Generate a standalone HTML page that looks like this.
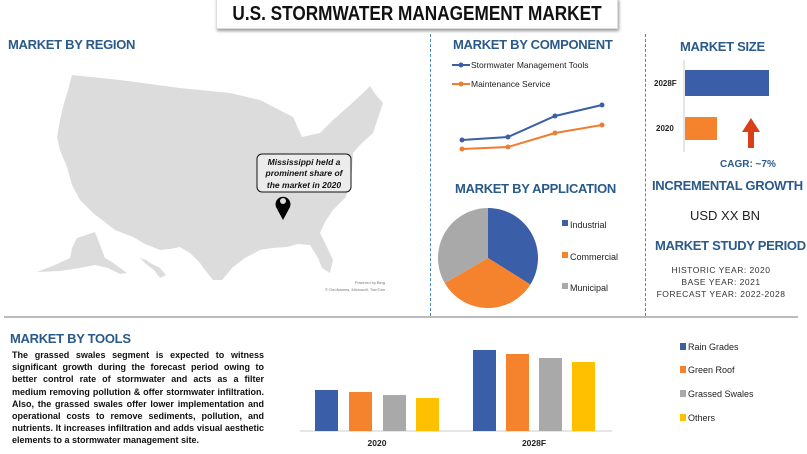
<!DOCTYPE html>
<html><head><meta charset="utf-8"><style>
*{margin:0;padding:0;box-sizing:border-box}
body{width:807px;height:454px;background:#fff;position:relative;overflow:hidden;font-family:"Liberation Sans",sans-serif}
.a{position:absolute;white-space:nowrap}
.h{color:#2a5a8a;font-weight:bold;font-size:13px;letter-spacing:-0.3px}
.p{position:absolute;left:12px;width:252px;font-size:9px;font-weight:bold;color:#111;line-height:12.2px}
.p div{text-align:justify;text-align-last:justify;height:12.2px}
.p div.l{text-align-last:left}
</style></head><body>
<div class="a" style="left:216px;top:-2px;width:402px;height:31px;background:#fff;box-shadow:1px 2px 3px #999;border:1px solid #ddd;font-size:20px;font-weight:bold;line-height:31px;color:#111"><span style="position:absolute;left:50%;top:0;transform:translateX(-50%) scaleX(0.86)">U.S. STORMWATER MANAGEMENT MARKET</span></div>
<div class="a" style="left:430px;top:34px;height:282px;border-left:1px dashed #4a86c8"></div>
<div class="a" style="left:645px;top:34px;height:282px;border-left:1px dashed #4a86c8"></div>
<div class="a" style="left:4px;top:316px;width:794px;height:2px;background:#bbb"></div>

<div class="a h" style="left:8px;top:37px">MARKET BY REGION</div>
<svg class="a" style="left:0;top:0" width="430" height="316">
<path fill="#dcdcdc" d="M72,75 L120,80 L180,88 L230,93 L260,100 L293,117 L302,137 L320,133 L333,120 L350,105 L363,93 L370,86 L376,95 L383,103 L378,118 L373,133 L360,145 L353,153 L352,170 L350,187 L345,198 L333,210 L325,222 L320,233 L326,245 L333,260 L330,273 L322,268 L318,258 L310,245 L298,244 L287,247 L272,248 L260,250 L245,258 L233,267 L222,280 L213,280 L205,270 L200,263 L190,253 L180,247 L170,249 L160,250 L145,244 L133,237 L115,230 L93,213 L85,205 L80,200 L72,185 L67,167 L60,150 L57,137 L60,120 L63,107 L68,90 Z"/>
<path fill="#dcdcdc" d="M77,238 L95,232 L100,245 L105,258 L112,262 L127,273 L120,274 L108,268 L95,265 L80,268 L60,271 L37,272 L55,265 L70,258 L72,248 Z"/>
<path fill="#dcdcdc" d="M140,258 L146,260 L152,264 L160,268 L166,275 L160,278 L154,270 L146,264 Z"/>
<text x="385" y="284" font-size="4" fill="#777" text-anchor="end" font-family="Liberation Sans">Powered by Bing</text>
<text x="385" y="291" font-size="4" fill="#777" text-anchor="end" font-family="Liberation Sans">© GeoNames, Microsoft, TomTom</text>
<rect x="257" y="154" width="94" height="38" rx="5" fill="#ececec" stroke="#111" stroke-width="1"/>
<g font-family="Liberation Sans" font-size="8.5" font-weight="bold" font-style="italic" text-anchor="middle" fill="#111">
<text x="304" y="165">Mississippi held a</text><text x="304" y="176">prominent share of</text><text x="304" y="188">the market in 2020</text></g>
<path d="M283,220 L276,207 A7.5,7.5 0 1 1 290,207 Z" fill="#000"/>
<circle cx="283" cy="201" r="3" fill="#dcdcdc"/>
</svg>

<div class="a h" style="left:453px;top:37px">MARKET BY COMPONENT</div>
<svg class="a" style="left:430px;top:0" width="215" height="316">
<g font-family="Liberation Sans" font-size="8.5" fill="#222">
<line x1="22" y1="65" x2="40" y2="65" stroke="#3a5fa8" stroke-width="2"/><circle cx="31" cy="65" r="2.5" fill="#3a5fa8"/>
<text x="41" y="68">Stormwater Management Tools</text>
<line x1="22" y1="84" x2="40" y2="84" stroke="#f07c30" stroke-width="2"/><circle cx="31" cy="84" r="2.5" fill="#f07c30"/>
<text x="41" y="87">Maintenance Service</text></g>
<polyline points="32,140 78,137 125,116 172,105" fill="none" stroke="#3a5fa8" stroke-width="2"/>
<polyline points="32,149 78,147 125,133 172,125" fill="none" stroke="#f07c30" stroke-width="2"/>
<g fill="#3a5fa8"><circle cx="32" cy="140" r="2.5"/><circle cx="78" cy="137" r="2.5"/><circle cx="125" cy="116" r="2.5"/><circle cx="172" cy="105" r="2.5"/></g>
<g fill="#f07c30"><circle cx="32" cy="149" r="2.5"/><circle cx="78" cy="147" r="2.5"/><circle cx="125" cy="133" r="2.5"/><circle cx="172" cy="125" r="2.5"/></g>
<g transform="translate(58,258)">
<path d="M0,0 L0,-50 A50,50 0 0 1 42.4,26.5 Z" fill="#3a5fa8"/>
<path d="M0,0 L42.4,26.5 A50,50 0 0 1 -43.3,25 Z" fill="#f5832d"/>
<path d="M0,0 L-43.3,25 A50,50 0 0 1 0,-50 Z" fill="#a9a9a9"/>
</g>
<g font-family="Liberation Sans" font-size="9" fill="#222">
<rect x="132" y="220" width="6" height="6" fill="#3a5fa8"/><text x="140" y="228">Industrial</text>
<rect x="132" y="252" width="6" height="6" fill="#f5832d"/><text x="140" y="260">Commercial</text>
<rect x="132" y="283" width="6" height="6" fill="#a9a9a9"/><text x="140" y="291">Municipal</text></g>
</svg>
<div class="a h" style="left:455px;top:181px">MARKET BY APPLICATION</div>

<div class="a h" style="left:680px;top:39px">MARKET SIZE</div>
<svg class="a" style="left:645px;top:0" width="162" height="316">
<line x1="39" y1="60" x2="39" y2="152" stroke="#ccc"/>
<rect x="40" y="70" width="84" height="26" fill="#3a5fa8"/>
<rect x="40" y="117" width="32" height="23" fill="#f5832d"/>
<g font-family="Liberation Sans" font-size="8" fill="#222" font-weight="bold"><text x="9" y="86">2028F</text><text x="11" y="131">2020</text></g>
<path d="M103,148 L103,132 L97,132 L106,118 L115,132 L109,132 L109,148 Z" fill="#d9401a"/>
<text x="75" y="167" font-family="Liberation Sans" font-size="10" font-weight="bold" fill="#2a5a8a">CAGR:  ~7%</text>
<g font-family="Liberation Sans" font-size="8.5" fill="#333" text-anchor="middle" letter-spacing="0.5"><text x="76" y="273">HISTORIC YEAR: 2020</text><text x="76" y="285">BASE YEAR: 2021</text><text x="76" y="297">FORECAST YEAR: 2022-2028</text></g>
</svg>
<div class="a h" style="left:652px;top:178px">INCREMENTAL GROWTH</div>
<div class="a" style="left:690px;top:208px;font-size:13px;color:#222">USD XX BN</div>
<div class="a h" style="left:655px;top:238px">MARKET STUDY PERIOD</div>

<div class="a h" style="left:10px;top:331px">MARKET BY TOOLS</div>
<div class="p" style="top:349px">
<div>The grassed swales segment is expected to witness</div>
<div>significant growth during the forecast period owing to</div>
<div>better control rate of stormwater and acts as a filter</div>
<div>medium removing pollution &amp; offer stormwater infiltration.</div>
<div>Also, the grassed swales offer lower implementation and</div>
<div>operational costs to remove sediments, pollution, and</div>
<div>nutrients. It increases infiltration and adds visual aesthetic</div>
<div class="l">elements to a stormwater management site.</div>
</div>
<svg class="a" style="left:0;top:320px" width="807" height="134">
<line x1="300" y1="111" x2="612" y2="111" stroke="#ccc"/>
<rect x="315" y="70" width="23" height="41" fill="#3a5fa8"/><rect x="349" y="72" width="23" height="39" fill="#f5832d"/>
<rect x="383" y="75" width="23" height="36" fill="#a9a9a9"/><rect x="416" y="78" width="23" height="33" fill="#ffc000"/>
<rect x="473" y="30" width="23" height="81" fill="#3a5fa8"/><rect x="506" y="34" width="23" height="77" fill="#f5832d"/>
<rect x="539" y="38" width="23" height="73" fill="#a9a9a9"/><rect x="572" y="42" width="23" height="69" fill="#ffc000"/>
<g font-family="Liberation Sans" font-size="8.5" font-weight="bold" fill="#222" text-anchor="middle"><text x="377" y="126">2020</text><text x="534" y="126">2028F</text></g>
<g font-family="Liberation Sans" font-size="9" fill="#222">
<rect x="680" y="23" width="6" height="7" fill="#3a5fa8"/><text x="688" y="30">Rain Grades</text>
<rect x="680" y="46" width="6" height="7" fill="#f5832d"/><text x="688" y="53">Green Roof</text>
<rect x="680" y="70" width="6" height="7" fill="#a9a9a9"/><text x="688" y="77">Grassed Swales</text>
<rect x="680" y="94" width="6" height="7" fill="#ffc000"/><text x="688" y="101">Others</text></g>
</svg>
</body></html>
